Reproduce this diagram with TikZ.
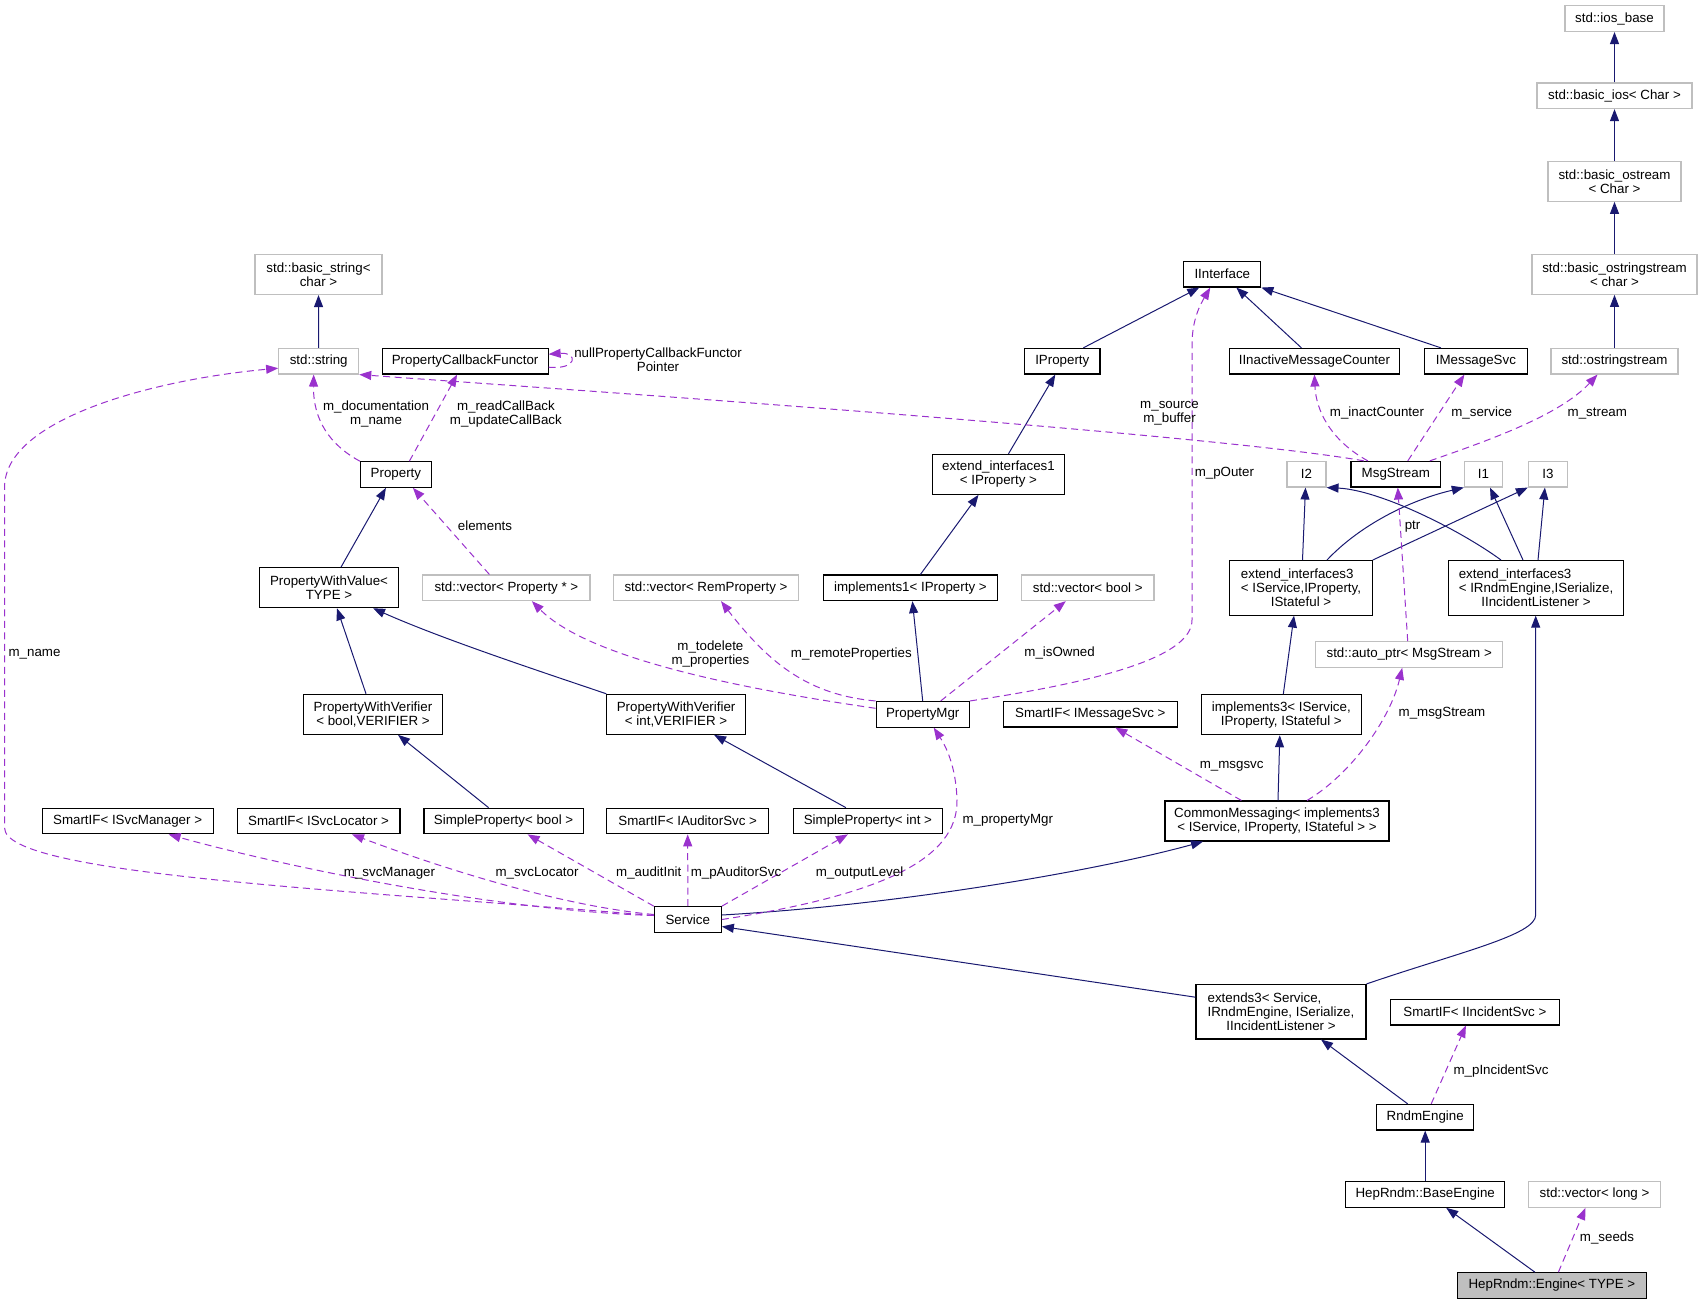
\documentclass[tikz,border=0pt]{standalone}
\usepackage{fontspec}
\setmainfont{Liberation Sans}
\usetikzlibrary{arrows.meta}
\definecolor{edgeblue}{HTML}{191970}
\definecolor{usepurple}{HTML}{9A32CD}
\definecolor{greyline}{HTML}{BFBFBF}
\begin{document}
\begin{tikzpicture}[x=1pt,y=-1pt,
  every node/.style={font=\fontsize{13.33}{14}\selectfont, inner sep=0pt, align=center},
  cls/.style={draw=black, line width=1.1pt, fill=white, minimum height=25.6pt},
  ext/.style={draw=greyline, line width=1.1pt, fill=white, minimum height=25.6pt},
  htwo/.style={minimum height=40pt},
  hthree/.style={minimum height=54.5pt},
  inh/.style={draw=edgeblue, line width=1pt, -{Triangle[length=12pt,width=9pt]}},
  use/.style={draw=usepurple, line width=1pt, dash pattern=on 7pt off 4.5pt, -{Triangle[length=12pt,width=9pt]}}
]
\useasboundingbox (0,0) rectangle (1703,1304);

% ---------- nodes ----------
\node[ext, minimum width=99] (iosbase) at (1614.5,18.7) {std::ios\_base};
\node[ext, minimum width=155] (basicios) at (1614.5,95.8) {std::basic\_ios< Char >};
\node[ext, htwo, minimum width=133] (basicostream) at (1614.5,181.3) {std::basic\_ostream\\< Char >};
\node[ext, htwo, minimum width=165] (basicostringstream) at (1614.5,274.3) {std::basic\_ostringstream\\< char >};
\node[ext, minimum width=127] (ostringstream) at (1614.5,361.2) {std::ostringstream};

\node[ext, htwo, minimum width=127] (basicstring) at (318.5,274.5) {std::basic\_string<\\char >};
\node[ext, minimum width=80] (stdstring) at (318.7,361.2) {std::string};
\node[cls, minimum width=166] (pcf) at (465.1,361.2) {PropertyCallbackFunctor};
\node[cls, minimum width=75.4] (iproperty) at (1062.3,361.2) {IProperty};
\node[cls, minimum width=170.7] (iimc) at (1314.4,361.2) {IInactiveMessageCounter};
\node[cls, minimum width=102.7] (imsgsvc) at (1475.9,361.2) {IMessageSvc};
\node[cls, minimum width=77] (iinterface) at (1222.3,274.2) {IInterface};

\node[cls, minimum width=71] (property) at (395.9,474.5) {Property};
\node[cls, htwo, minimum width=132] (ext1) at (998.5,474.3) {extend\_interfaces1\\< IProperty >};
\node[ext, minimum width=39] (i2) at (1306.5,474.2) {I2};
\node[cls, minimum width=89.6] (msgstream) at (1395.8,474.2) {MsgStream};
\node[ext, minimum width=38.3] (i1) at (1483.5,474.2) {I1};
\node[ext, minimum width=39] (i3) at (1547.9,474.2) {I3};

\node[cls, htwo, minimum width=139.3] (pwv) at (329,587.7) {PropertyWithValue<\\TYPE >};
\node[ext, minimum width=167.2] (vecprop) at (506.4,587.8) {std::vector< Property * >};
\node[ext, minimum width=185.7] (vecrem) at (706,587.8) {std::vector< RemProperty >};
\node[cls, minimum width=173.5] (impl1) at (910.4,587.8) {implements1< IProperty >};
\node[ext, minimum width=132.3] (vecbool) at (1087.8,587.8) {std::vector< bool >};
\node[cls, hthree, minimum width=142.5] (ext3a) at (1301,587.8)
  {\makebox[0pt][l]{extend\_interfaces3}\phantom{< IService,IProperty,}\\< IService,IProperty,\\IStateful >};
\node[cls, hthree, minimum width=174.7] (ext3b) at (1536,587.8)
  {\makebox[0pt][l]{extend\_interfaces3}\phantom{< IRndmEngine,ISerialize,}\\< IRndmEngine,ISerialize,\\IIncidentListener >};
\node[ext, minimum width=187] (autoptr) at (1409.2,654.5) {std::auto\_ptr< MsgStream >};

\node[cls, htwo, minimum width=139.3] (pwvbool) at (373,714.3) {PropertyWithVerifier\\< bool,VERIFIER >};
\node[cls, htwo, minimum width=138.6] (pwvint) at (676.1,714.3) {PropertyWithVerifier\\< int,VERIFIER >};
\node[cls, minimum width=93.3] (propmgr) at (922.7,714.3) {PropertyMgr};
\node[cls, minimum width=174] (smsgsvc) at (1090.3,714.2) {SmartIF< IMessageSvc >};
\node[cls, htwo, minimum width=160] (impl3) at (1281.3,714.7) {implements3< IService,\\IProperty, IStateful >};

\node[cls, minimum width=171] (ssvcmgr) at (127.6,821) {SmartIF< ISvcManager >};
\node[cls, minimum width=162.7] (ssvcloc) at (318.6,821) {SmartIF< ISvcLocator >};
\node[cls, minimum width=159.2] (spbool) at (503.6,821) {SimpleProperty< bool >};
\node[cls, minimum width=161.8] (sauditor) at (687.7,821) {SmartIF< IAuditorSvc >};
\node[cls, minimum width=149.3] (spint) at (867.9,821) {SimpleProperty< int >};
\node[cls, htwo, minimum width=224] (cm) at (1277,821) {CommonMessaging< implements3\\< IService, IProperty, IStateful > >};

\node[cls, minimum width=67] (service) at (687.8,919.5) {Service};
\node[cls, hthree, minimum width=170] (extends3) at (1281,1011.7)
  {\makebox[0pt][l]{extends3< Service,}\phantom{IRndmEngine, ISerialize,}\\IRndmEngine, ISerialize,\\IIncidentListener >};
\node[cls, minimum width=168.3] (sincident) at (1474.9,1012.2) {SmartIF< IIncidentSvc >};
\node[cls, minimum width=97.3] (rndm) at (1425.2,1117.2) {RndmEngine};
\node[cls, minimum width=159] (baseengine) at (1425.2,1194.5) {HepRndm::BaseEngine};
\node[ext, minimum width=132.3] (veclong) at (1594.5,1194.5) {std::vector< long >};
\node[cls, fill=greyline, minimum width=188.3] (engine) at (1551.9,1285.5) {HepRndm::Engine< TYPE >};

% ---------- inheritance edges ----------
\draw[inh] (basicios.north) -- (iosbase.south);
\draw[inh] (basicostream.north) -- (basicios.south);
\draw[inh] (basicostringstream.north) -- (basicostream.south);
\draw[inh] (ostringstream.north) -- (basicostringstream.south);
\draw[inh] (stdstring.north) -- (basicstring.south);
\draw[inh] ([xshift=21]iproperty.north) -- ([xshift=-23]iinterface.south);
\draw[inh] ([xshift=-13]iimc.north) -- ([xshift=14]iinterface.south);
\draw[inh] ([xshift=-35]imsgsvc.north) -- (iinterface.south east);
\draw[inh] ([xshift=10]ext1.north) -- ([xshift=-7]iproperty.south);
\draw[inh] ([xshift=10]impl1.north) -- ([xshift=-20]ext1.south);
\draw[inh] (propmgr.north) -- ([xshift=2]impl1.south);
\draw[inh] ([xshift=12]pwv.north) -- ([xshift=-10]property.south);
\draw[inh] ([xshift=-7]pwvbool.north) -- ([xshift=8]pwv.south);
\draw[inh] (pwvint.north west) .. controls (530,668) and (440,638) .. ([xshift=44]pwv.south);
\draw[inh] ([xshift=-15]spbool.north) -- ([xshift=25]pwvbool.south);
\draw[inh] ([xshift=-22]spint.north) -- ([xshift=38]pwvint.south);
\draw[inh] ([yshift=4.5]service.east) .. controls (900,905) and (1100,870) .. ([xshift=-74]cm.south);
\draw[inh] ([yshift=14.5]extends3.west) -- ([yshift=-7]service.east);
\draw[inh] ([xshift=1]cm.north) -- ([xshift=-1.5]impl3.south);
\draw[inh] ([xshift=2]impl3.north) -- ([xshift=-7]ext3a.south);
\draw[inh] ([xshift=1.5]ext3a.north) -- ([xshift=-1]i2.south);
\draw[inh] ([xshift=26]ext3a.north) .. controls (1360,525) and (1410,500) .. (i1.south west);
\draw[inh] (ext3a.north east) -- (i3.south west);
\draw[inh] ([xshift=-35]ext3b.north) .. controls (1460,530) and (1380,490) .. (i2.south east);
\draw[inh] ([xshift=-13]ext3b.north) -- ([xshift=6.5]i1.south);
\draw[inh] ([xshift=2]ext3b.north) -- ([xshift=-3]i3.south);
\draw[inh] (extends3.north east) .. controls (1460,952) and (1535.7,935) .. (1535.7,915) -- ([xshift=-0.3]ext3b.south);
\draw[inh] ([xshift=-17.5]rndm.north) -- ([xshift=40]extends3.south);
\draw[inh] (baseengine.north) -- (rndm.south);
\draw[inh] ([xshift=-17]engine.north) -- ([xshift=21]baseengine.south);

% ---------- usage edges ----------
\draw[use] (property.north west) .. controls (330,445) and (313,420) .. ([xshift=-5]stdstring.south);
\draw[use] ([xshift=13.5]property.north) -- ([xshift=-8]pcf.south);
\draw[use] ([yshift=-6]pcf.east) .. controls (578,370) and (578,352) .. ([yshift=7]pcf.east);
\draw[use] ([yshift=4]service.west) .. controls (350,890) and (4.6,875) .. (4.6,828) -- (4.6,487)
   .. controls (4.6,420) and (150,380) .. ([yshift=-7]stdstring.west);
\draw[use] ([xshift=-32]msgstream.north) .. controls (1200,432) and (500,385) .. (stdstring.south east);
\draw[use] (propmgr.north east) .. controls (1110,680) and (1192,655) .. (1192,620) -- (1192,345)
   .. controls (1192,320) and (1200,305) .. ([xshift=-12]iinterface.south);
\draw[use] ([xshift=-28]msgstream.north) .. controls (1330,440) and (1316,410) .. (iimc.south);
\draw[use] ([xshift=12]msgstream.north) -- ([xshift=-11.5]imsgsvc.south);
\draw[use] ([xshift=34]msgstream.north) .. controls (1490,440) and (1560,415) .. ([xshift=-17]ostringstream.south);
\draw[use] ([xshift=-1.5]autoptr.north) -- ([xshift=2]msgstream.south);
\draw[use] ([xshift=30]cm.north) .. controls (1350,775) and (1390,720) .. ([xshift=-7]autoptr.south);
\draw[use] ([xshift=-35.6]cm.north) -- ([xshift=25]smsgsvc.south);
\draw[use] ([xshift=-17]vecprop.north) -- ([xshift=17]property.south);
\draw[use] ([yshift=6]propmgr.west) .. controls (750,690) and (590,660) .. ([xshift=25.5]vecprop.south);
\draw[use] (propmgr.north west) .. controls (810,695) and (770,665) .. ([xshift=15]vecrem.south);
\draw[use] ([xshift=18]propmgr.north) -- ([xshift=-22]vecbool.south);
\draw[use] (service.east) .. controls (880,895) and (958,860) .. (957,800)
   .. controls (956,765) and (945,745) .. ([xshift=11]propmgr.south);
\draw[use] ([yshift=4]service.west) .. controls (480,910) and (260,860) .. ([xshift=41]ssvcmgr.south);
\draw[use] ([yshift=5]service.west) .. controls (550,905) and (420,860) .. ([xshift=33.4]ssvcloc.south);
\draw[use] (service.north west) -- ([xshift=24]spbool.south);
\draw[use] (service.north) -- (sauditor.south);
\draw[use] (service.north east) -- ([xshift=-20]spint.south);
\draw[use] ([xshift=6]rndm.north) -- ([xshift=-9]sincident.south);
\draw[use] ([xshift=6.5]engine.north) -- ([xshift=-9]veclong.south);

% ---------- labels ----------
\node (lDoc) at (376,413.7) {m\_documentation\\m\_name};
\node (lCb) at (505.9,413.7) {m\_readCallBack\\m\_updateCallBack};
\node (lNull) at (658,360) {nullPropertyCallbackFunctor\\Pointer};
\node[anchor=west] (lName) at (8.4,654) {m\_name};
\node (lSrc) at (1169.5,413.7) {m\_source\\m\_buffer};
\node (lInact) at (1377,413.3) {m\_inactCounter};
\node (lSvc) at (1481.7,413.3) {m\_service};
\node (lStream) at (1597.3,413.3) {m\_stream};
\node (lOuter) at (1224.4,473.3) {m\_pOuter};
\node (lPtr) at (1412.6,526.7) {ptr};
\node (lElem) at (485,526) {elements};
\node (lTodel) at (710.4,653.7) {m\_todelete\\m\_properties};
\node (lRem) at (851.3,653.7) {m\_remoteProperties};
\node (lOwned) at (1059.6,653.3) {m\_isOwned};
\node (lMsgStream) at (1442,713.3) {m\_msgStream};
\node (lMsgsvc) at (1231.7,766.7) {m\_msgsvc};
\node (lPmgr) at (1007.8,820.7) {m\_propertyMgr};
\node (lSvcMgr) at (389.5,873.3) {m\_svcManager};
\node (lSvcLoc) at (537,873.3) {m\_svcLocator};
\node (lAudit) at (648.8,873.3) {m\_auditInit};
\node (lPAud) at (736,873.3) {m\_pAuditorSvc};
\node (lOut) at (859.5,873.3) {m\_outputLevel};
\node (lInc) at (1501,1070.7) {m\_pIncidentSvc};
\node (lSeeds) at (1607,1238.3) {m\_seeds};
\end{tikzpicture}
\end{document}
